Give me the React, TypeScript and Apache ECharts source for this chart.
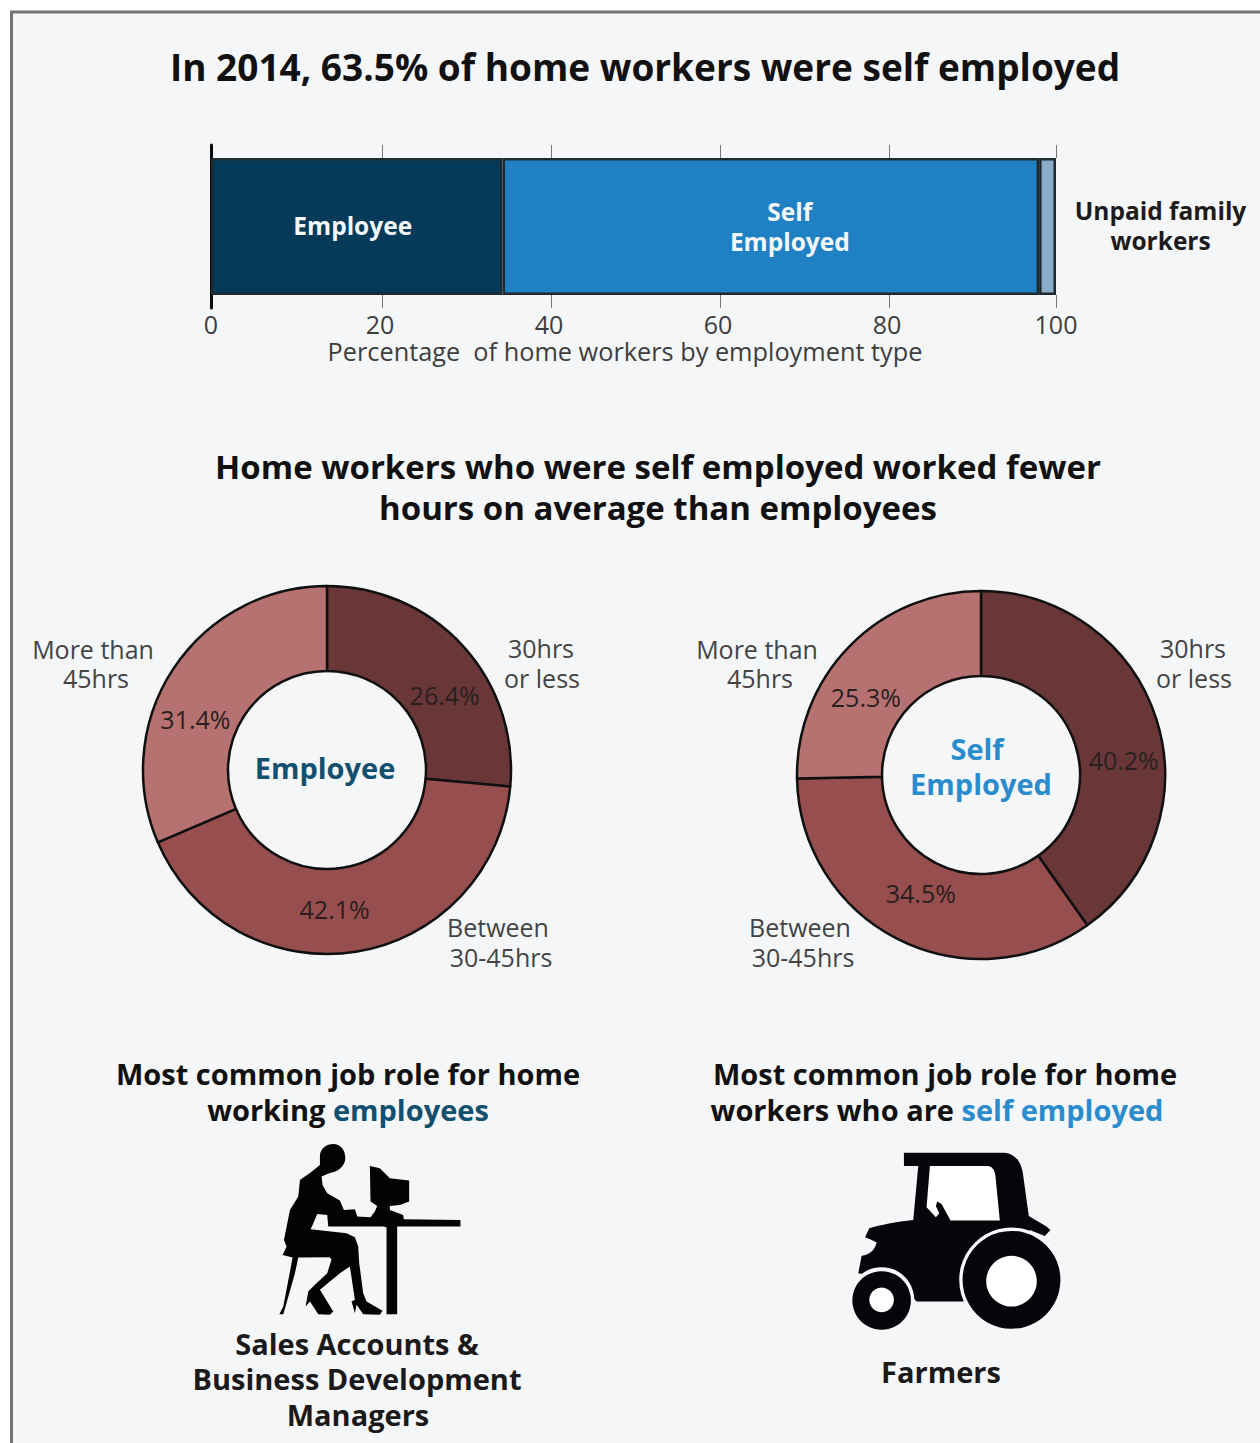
import React, { useEffect, useRef } from "react";
import * as echarts from "echarts";

// Employment split of home workers, 2014
const employmentTypes = ["Employee", "Self\nEmployed", "Unpaid family\nworkers"];
const employmentShares = [34.5, 63.5, 2.0];
const employmentColors = ["#053b59", "#1f80c4", "#8aabc9"];
const axisTickValues = [20.3, 40.3, 60.3, 80.3, 100];

// Usual weekly hours, in percent
const hourBands = ["30hrs or less", "Between 30-45hrs", "More than 45hrs"];
const employeeHours = [26.4, 42.1, 31.4];
const selfEmployedHours = [40.2, 34.5, 25.3];
const bandColors = ["#693737", "#974e4e", "#b57271"];

const FONT = "'Open Sans', sans-serif";
const PANEL = "#f5f6f8";

// Silhouette outlines, in a coordinate space three times the drawn size
const WORKER_D =
  "M240 80C240 55 260 42 280 42C305 42 318 65 316 88C314 108 295 125 275 128L262 132L245 140L248 165L262 190L300 212L312 240L345 238L352 260L392 262L405 245L412 228L392 215L390 108L420 115L450 145L508 152L508 215L480 225L450 228L450 240L490 255L492 268L662 270L662 290L472 290L472 553L440 553L440 292L430 290L265 290L262 255L232 252L218 285L212 298L320 310L345 322L355 350L358 400L370 490L380 515L428 543L420 555L370 553L350 525L345 550L335 515L345 510L330 410L300 430L240 480L280 545L270 555L235 553L210 515L197 530L205 485L225 465L262 430L275 388L268 382L175 383L165 430L130 553L118 553L130 530L158 383L128 375L140 350L132 330L150 240L175 200L180 150L215 125L240 105Z";
const TRACTOR_BODY_D =
  "M222 68L525 68C560 72 578 100 582 150L597 258L650 290L662 300L645 318L600 300L560 440L400 515L260 515L200 450L85 430L95 378C120 375 135 360 140 338C125 330 115 325 105 322L118 295C150 285 200 275 250 270L265 108L222 108Z";
const TRACTOR_WINDOW_D =
  "M300 108L475 108C490 110 497 125 498 150L510 272L362 272L335 222L322 215L318 228L328 250L318 262L290 232Z";

echarts.graphic.registerShape("workerShape", echarts.graphic.extendPath(WORKER_D, {}) as any);
echarts.graphic.registerShape("tractorBody", echarts.graphic.extendPath(TRACTOR_BODY_D, {}) as any);
echarts.graphic.registerShape("tractorWindow", echarts.graphic.extendPath(TRACTOR_WINDOW_D, {}) as any);

type LineOpts = { size: number; weight?: number | string; color?: string };

const textLine = (text: string, x: number, y: number, o: LineOpts, rich?: any) => ({
  type: "text",
  x,
  y: y - 1.5,
  z: 10,
  silent: true,
  style: {
    text,
    textAlign: "center",
    textVerticalAlign: "middle",
    align: "center",
    verticalAlign: "middle",
    fontFamily: FONT,
    fontSize: o.size,
    fontWeight: o.weight ?? 400,
    fill: o.color ?? "#3d3d3d",
    rich,
  },
});

const HEADING: LineOpts = { size: 37, weight: 700, color: "#111" };
const SUBHEADING: LineOpts = { size: 33, weight: 700, color: "#111" };
const ROLE_HEAD: LineOpts = { size: 29, weight: 700, color: "#111" };
const ROLE_NAME: LineOpts = { size: 29, weight: 700, color: "#1a1a1a" };
const BAND: LineOpts = { size: 25, color: "#444" };

const highlight = (color: string) => ({
  k: { fontFamily: FONT, fontSize: 29, fontWeight: 700, fill: "#111", color: "#111" },
  h: { fontFamily: FONT, fontSize: 29, fontWeight: 700, fill: color, color },
});

const donut = (
  name: string,
  values: number[],
  cx: number,
  cy: number,
  shift: number[][],
) => ({
  type: "pie",
  name,
  center: [cx, cy],
  radius: [99, 184],
  startAngle: 90,
  clockwise: true,
  silent: true,
  avoidLabelOverlap: false,
  itemStyle: { borderColor: "#101010", borderWidth: 2.5 },
  labelLine: { show: false },
  label: {
    show: true,
    position: "inside",
    formatter: "{c}%",
    fontFamily: FONT,
    fontSize: 25,
    color: "#2a1f1f",
  },
  labelLayout: (p: any) => ({ dx: shift[p.dataIndex][0], dy: shift[p.dataIndex][1] }),
  data: values.map((value, i) => ({
    value,
    name: hourBands[i],
    itemStyle: { color: bandColors[i] },
  })),
});

const buildOption = () => ({
  animation: false,
  backgroundColor: "#ffffff",
  grid: { left: 211, width: 845, top: 145, height: 163 },
  yAxis: {
    type: "category",
    data: ["Home workers"],
    axisLine: { show: true, lineStyle: { color: "#0a0a0a", width: 3 } },
    axisTick: { show: false },
    axisLabel: { show: false },
  },
  xAxis: [
    {
      type: "value",
      min: 0,
      max: 100,
      interval: 20,
      position: "bottom",
      splitLine: { show: false },
      axisLine: { show: false },
      axisTick: {
        show: true,
        inside: true,
        length: 13,
        customValues: axisTickValues,
        lineStyle: { color: "#777", width: 1 },
      },
      axisLabel: { margin: 3, fontFamily: FONT, fontSize: 25, color: "#3d3d3d" },
      name: "Percentage  of home workers by employment type",
      nameLocation: "middle",
      nameGap: 30,
      nameTextStyle: { fontFamily: FONT, fontSize: 25.3, color: "#3d3d3d", padding: [0, 17, 0, 0] },
    },
    {
      type: "value",
      min: 0,
      max: 100,
      interval: 20,
      position: "top",
      splitLine: { show: false },
      axisLine: { show: false },
      axisLabel: { show: false },
      axisTick: {
        show: true,
        inside: true,
        length: 13,
        customValues: axisTickValues,
        lineStyle: { color: "#777", width: 1 },
      },
    },
  ],
  series: [
    ...employmentTypes.map((name, i) => ({
      type: "bar",
      name,
      stack: "share",
      barWidth: 137,
      silent: true,
      itemStyle: { color: employmentColors[i], borderColor: "#1f2a30", borderWidth: 2.5 },
      label: {
        show: true,
        position: "inside",
        formatter: name,
        fontFamily: FONT,
        fontWeight: 700,
        fontSize: 24.5,
        lineHeight: 30,
        color: i === 2 ? "#1c1c1c" : "#f4f7fa",
      },
      labelLayout: { dx: [-4, 19, 113][i], dy: [-1, 0, -1][i] },
      data: [employmentShares[i]],
    })),
    donut("Employee", employeeHours, 327, 770, [[11, 22], [-15, -4], [-11, 29]]),
    donut("Self Employed", selfEmployedHours, 981, 775, [[5, 29], [5, -11], [-12, 23]]),
  ],
  graphic: {
    elements: [
      {
        type: "rect",
        z: -1,
        silent: true,
        shape: { x: 11.5, y: 12, width: 1300, height: 1500 },
        style: { fill: PANEL, stroke: "#747474", lineWidth: 3 },
      },
      textLine("In 2014, 63.5% of home workers were self employed", 645, 68, HEADING),
      textLine("Home workers who were self employed worked fewer", 658, 468, SUBHEADING),
      textLine("hours on average than employees", 658, 509, SUBHEADING),

      textLine("Employee", 325, 769, { size: 29, weight: 700, color: "#12506f" }),
      textLine("Self", 977, 750, { size: 29, weight: 700, color: "#2a8ccc" }),
      textLine("Employed", 981, 785, { size: 29, weight: 700, color: "#2a8ccc" }),

      textLine("More than", 93, 650, BAND),
      textLine("45hrs", 96, 679, BAND),
      textLine("30hrs", 541, 649, BAND),
      textLine("or less", 542, 679, BAND),
      textLine("Between", 498, 928, BAND),
      textLine("30-45hrs", 501, 958, BAND),
      textLine("More than", 757, 650, BAND),
      textLine("45hrs", 760, 679, BAND),
      textLine("30hrs", 1193, 649, BAND),
      textLine("or less", 1194, 679, BAND),
      textLine("Between", 800, 928, BAND),
      textLine("30-45hrs", 803, 958, BAND),

      textLine("Most common job role for home", 348, 1075, ROLE_HEAD),
      textLine("{k|working }{h|employees}", 348, 1111, ROLE_HEAD, highlight("#12506f")),
      textLine("Most common job role for home", 945, 1075, ROLE_HEAD),
      textLine("{k|workers who are }{h|self employed}", 937, 1111, ROLE_HEAD, highlight("#2a8ccc")),

      {
        type: "workerShape",
        x: 240,
        y: 1130,
        scaleX: 1 / 3,
        scaleY: 1 / 3,
        z: 5,
        silent: true,
        style: { fill: "#030303" },
      },
      {
        type: "group",
        x: 830,
        y: 1130,
        scaleX: 1 / 3,
        scaleY: 1 / 3,
        silent: true,
        children: [
          { type: "tractorBody", z: 5, style: { fill: "#05060a" } },
          { type: "tractorWindow", z: 6, style: { fill: "#ffffff" } },
          { type: "circle", z: 6, shape: { cx: 545, cy: 450, r: 157 }, style: { fill: "#f7f8fa" } },
          { type: "circle", z: 7, shape: { cx: 545, cy: 450, r: 147 }, style: { fill: "#05060a" } },
          { type: "circle", z: 8, shape: { cx: 545, cy: 454, r: 76 }, style: { fill: "#ffffff" } },
          { type: "circle", z: 6, shape: { cx: 155, cy: 510, r: 98 }, style: { fill: "#f7f8fa" } },
          { type: "circle", z: 7, shape: { cx: 155, cy: 512, r: 88 }, style: { fill: "#05060a" } },
          { type: "circle", z: 8, shape: { cx: 155, cy: 510, r: 37 }, style: { fill: "#ffffff" } },
        ],
      },

      textLine("Sales Accounts &", 357, 1345, ROLE_NAME),
      textLine("Business Development", 357, 1380, ROLE_NAME),
      textLine("Managers", 358, 1416, ROLE_NAME),
      textLine("Farmers", 941, 1373, ROLE_NAME),
    ],
  },
});

export default function App() {
  const ref = useRef<HTMLDivElement>(null);
  useEffect(() => {
    const chart = echarts.init(ref.current!, undefined, { renderer: "svg" });
    chart.setOption(buildOption() as any);
    return () => chart.dispose();
  }, []);
  return (
    <div
      ref={ref}
      style={{ position: "fixed", left: 0, top: 0, width: 1260, height: 1443 }}
    />
  );
}
